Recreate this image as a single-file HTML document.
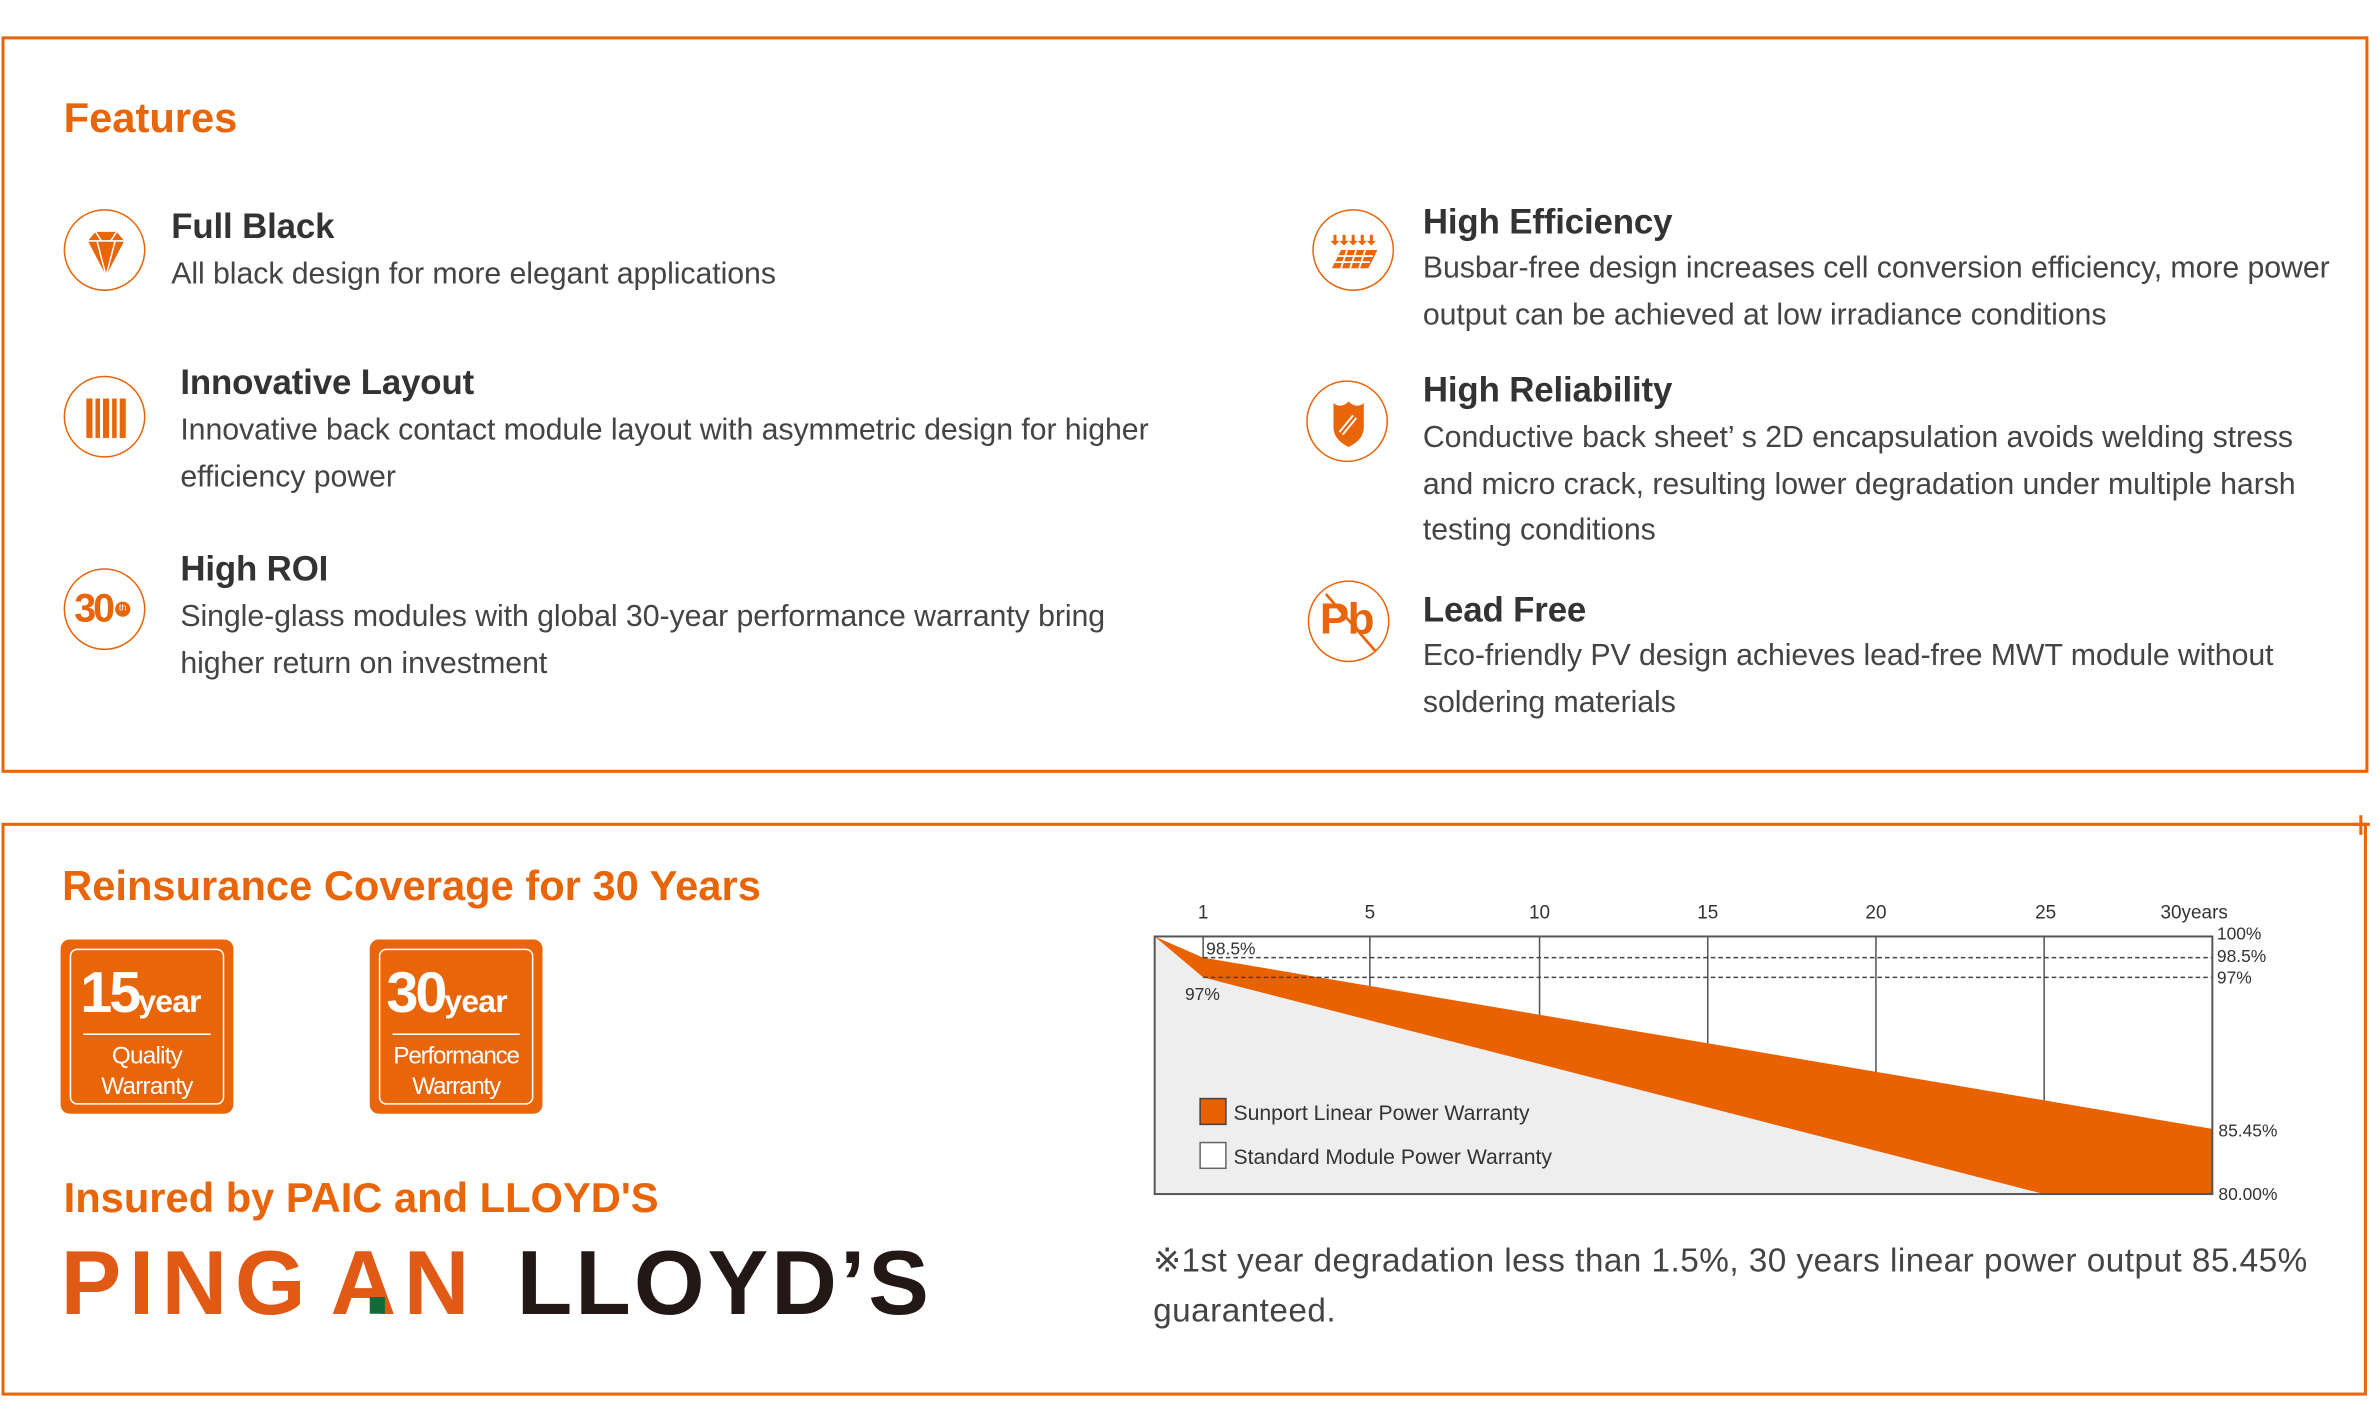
<!DOCTYPE html>
<html><head><meta charset="utf-8"><style>
html,body{margin:0;padding:0;background:#fff;width:2376px;height:1416px;overflow:hidden}
#w{position:absolute;left:0;top:0;width:1568px;height:935px;transform:scale(1.51531);transform-origin:0 0;font-family:"Liberation Sans",sans-serif;color:#3a3a3a}
.a{position:absolute;white-space:nowrap}
.h{color:#e8650a;font-weight:bold;font-size:27.5px;letter-spacing:0px}
.t{font-weight:bold;font-size:23px;letter-spacing:-0.1px;color:#333}
.d{font-size:20px;letter-spacing:-0.05px;line-height:30.5px;color:#444}
.ic{position:absolute;width:54px;height:54px;border:1.8px solid #e8650a;border-radius:50%;box-sizing:border-box}
.badge{position:absolute;width:114px;height:115px;background:#e8650a;border-radius:6px}
.badge .in{position:absolute;left:6px;top:6px;right:6px;bottom:6px;border:1.5px solid #fff;border-radius:5px;color:#fff;text-align:center}
</style></head><body><div id="w">
<div class="a" style="left:1px;top:24px;width:1558px;height:482px;border:2px solid #e8650a"></div>
<div class="a" style="left:1px;top:543px;width:1557px;height:374px;border:2px solid #e8650a"></div>
<div class="a" style="left:1552px;top:543px;width:12px;height:2px;background:#e8650a"></div>
<div class="a" style="left:1557px;top:538px;width:2px;height:13px;background:#e8650a"></div>

<div class="a h" style="left:42px;top:62px">Features</div>

<div class="ic" style="left:42px;top:138px"><svg width="54" height="54" viewBox="0 0 54 54"><polygon points="15,20 20,14 34,14 39,20 27,43" fill="#e8650a"/><path d="M15,20H39M21,20L27,43M33,20L27,43M20,14L24,20M34,14L30,20" stroke="#fff" stroke-width="1"/></svg></div>
<div class="ic" style="left:42px;top:248px"><svg width="54" height="54" viewBox="0 0 54 54"><g fill="#e8650a"><rect x="14" y="14" width="4" height="26"/><rect x="20" y="14" width="3" height="26"/><rect x="25" y="14" width="4" height="26"/><rect x="31" y="14" width="3" height="26"/><rect x="36" y="14" width="4" height="26"/></g></svg></div>
<div class="ic" style="left:42px;top:375px"><span class="a" style="left:6px;top:10px;font-size:26px;font-weight:bold;color:#e8650a;letter-spacing:-2px">30</span><span class="a" style="left:33px;top:21px;width:10px;height:10px;border-radius:50%;background:#e8650a;color:#fff;font-size:6px;text-align:center;line-height:10px">th</span></div>

<div class="a t" style="left:113px;top:136px">Full Black</div>
<div class="a d" style="left:113px;top:166px">All black design for more elegant applications</div>
<div class="a t" style="left:119px;top:239px">Innovative Layout</div>
<div class="a d" style="left:119px;top:269px">Innovative back contact module layout with asymmetric design for higher<br>efficiency power</div>
<div class="a t" style="left:119px;top:362px">High ROI</div>
<div class="a d" style="left:119px;top:392px">Single-glass modules with global 30-year performance warranty bring<br>higher return on investment</div>

<div class="ic" style="left:866px;top:138px"><svg width="54" height="54" viewBox="0 0 54 54"><g fill="#e8650a"><path d="M13,16h2v4h2l-3,3l-3,-3h2z M19,16h2v4h2l-3,3l-3,-3h2z M25,16h2v4h2l-3,3l-3,-3h2z M31,16h2v4h2l-3,3l-3,-3h2z M37,16h2v4h2l-3,3l-3,-3h2z"/><polygon points="18,26 42,26 36,38 12,38"/></g><path d="M16,30H39M14,34H37M22,26L18,38M28,26L24,38M34,26L30,38" stroke="#fff" stroke-width="1.2"/></svg></div>
<div class="ic" style="left:862px;top:251px"><svg width="54" height="54" viewBox="0 0 54 54"><path d="M17,14 Q22,18 27,13 Q32,18 37,14 L37,30 Q37,38 27,43 Q17,38 17,30Z" fill="#e8650a"/><path d="M22,34l9,-11" stroke="#fff" stroke-width="4"/><path d="M22,34l9,-11" stroke="#e8650a" stroke-width="1.5"/></svg></div>
<div class="ic" style="left:863px;top:383px"><span class="a" style="left:7px;top:9px;font-size:29px;font-weight:bold;color:#e8650a;letter-spacing:-1px">Pb</span><svg class="a" style="left:0;top:0" width="54" height="54"><line x1="11" y1="8" x2="44" y2="46" stroke="#e8650a" stroke-width="1.8"/></svg></div>

<div class="a t" style="left:939px;top:133px">High Efficiency</div>
<div class="a d" style="left:939px;top:162px">Busbar-free design increases cell conversion efficiency, more power<br>output can be achieved at low irradiance conditions</div>
<div class="a t" style="left:939px;top:244px">High Reliability</div>
<div class="a d" style="left:939px;top:274px">Conductive back sheet’ s 2D encapsulation avoids welding stress<br>and micro crack, resulting lower degradation under multiple harsh<br>testing conditions</div>
<div class="a t" style="left:939px;top:389px">Lead Free</div>
<div class="a d" style="left:939px;top:418px">Eco-friendly PV design achieves lead-free MWT module without<br>soldering materials</div>

<div class="a h" style="left:41px;top:569px">Reinsurance Coverage for 30 Years</div>
<div class="badge" style="left:40px;top:620px"><div class="in">
<div class="a" style="left:6px;top:8px;font-size:38px;font-weight:bold;letter-spacing:-2px">15<span style="font-size:21px;letter-spacing:-0.5px">year</span></div>
<div class="a" style="left:8px;top:55px;width:84px;height:1px;background:#fff"></div>
<div class="a" style="left:0;width:100%;top:61px;font-size:16px;line-height:20px;letter-spacing:-0.5px">Quality<br>Warranty</div></div></div>
<div class="badge" style="left:244px;top:620px"><div class="in">
<div class="a" style="left:4px;top:8px;font-size:38px;font-weight:bold;letter-spacing:-2px">30<span style="font-size:21px;letter-spacing:-0.5px">year</span></div>
<div class="a" style="left:8px;top:55px;width:84px;height:1px;background:#fff"></div>
<div class="a" style="left:0;width:100%;top:61px;font-size:16px;line-height:20px;letter-spacing:-0.8px">Performance<br>Warranty</div></div></div>

<div class="a h" style="left:42px;top:775px">Insured by PAIC and LLOYD'S</div>
<div class="a" style="left:40px;top:812px;font-size:60px;font-weight:bold;color:#e05a16;letter-spacing:5px;word-spacing:-8px">PING AN</div>
<div class="a" style="left:244px;top:856px;width:10px;height:11px;background:#146b3a"></div>
<div class="a" style="left:341px;top:812px;font-size:60px;font-weight:bold;color:#231815;letter-spacing:2px">LLOYD’S</div>

<svg class="a" style="left:740px;top:585px" width="800" height="220" viewBox="740 585 800 220" font-family="Liberation Sans,sans-serif" font-size="12.5" fill="#333">
<rect x="762" y="618" width="698" height="170" fill="#fff"/>
<g stroke="#555" stroke-width="1"><line x1="794" y1="618" x2="794" y2="645"/><line x1="904" y1="618" x2="904" y2="700"/><line x1="1016" y1="618" x2="1016" y2="700"/><line x1="1127" y1="618" x2="1127" y2="700"/><line x1="1238" y1="618" x2="1238" y2="740"/><line x1="1349" y1="618" x2="1349" y2="740"/></g>
<polygon points="762,618 794,645 1349,788 762,788" fill="#eeeeee"/>
<polygon points="762,618 794,632 1460,745 1460,788 1349,788 794,645" fill="#ea6200"/>
<g stroke="#444" stroke-width="1" stroke-dasharray="3,2"><line x1="794" y1="632" x2="1460" y2="632"/><line x1="794" y1="645" x2="1460" y2="645"/></g>
<rect x="762" y="618" width="698" height="170" fill="none" stroke="#555" stroke-width="1.3"/>
<g text-anchor="middle"><text x="794" y="606">1</text><text x="904" y="606">5</text><text x="1016" y="606">10</text><text x="1127" y="606">15</text><text x="1238" y="606">20</text><text x="1350" y="606">25</text><text x="1448" y="606">30years</text></g>
<text x="796" y="630" font-size="11.5">98.5%</text>
<text x="782" y="660" font-size="11.5">97%</text>
<g font-size="11.5"><text x="1463" y="620">100%</text><text x="1463" y="635">98.5%</text><text x="1463" y="649">97%</text><text x="1464" y="750">85.45%</text><text x="1464" y="792">80.00%</text></g>
<rect x="792" y="725" width="17" height="17" fill="#ea6200" stroke="#444"/>
<rect x="792" y="754" width="17" height="17" fill="#fff" stroke="#666"/>
<text x="814" y="739" font-size="14">Sunport Linear Power Warranty</text>
<text x="814" y="768" font-size="14">Standard Module Power Warranty</text>
</svg>

<div class="a" style="left:761px;top:815px;font-size:22px;letter-spacing:0.3px;line-height:33px;color:#444">※1st year degradation less than 1.5%, 30 years linear power output 85.45%<br>guaranteed.</div>
</div></body></html>
